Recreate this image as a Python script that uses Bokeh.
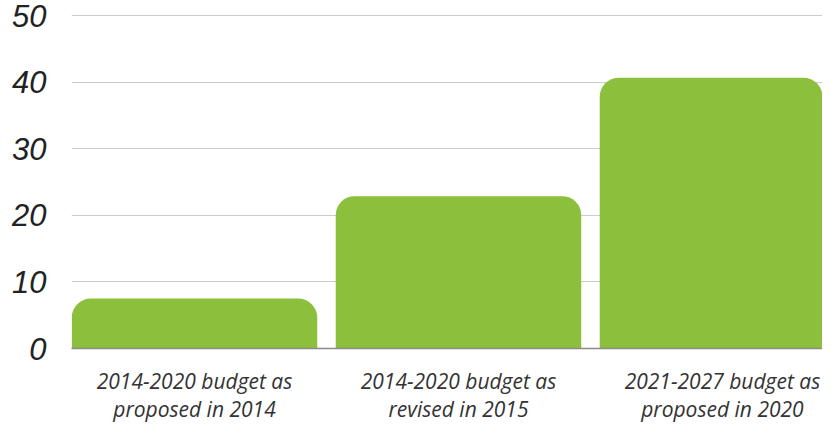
from bokeh.plotting import figure
from bokeh.models import Range1d, FixedTicker, ColumnDataSource
from bokeh.embed import file_html
from bokeh.resources import INLINE

categories = ["2014-2020 budget as\nproposed in 2014",
              "2014-2020 budget as\nrevised in 2015",
              "2021-2027 budget as\nproposed in 2020"]
values = [7.5, 22.9, 40.7]
y_ticks = [0, 10, 20, 30, 40, 50]

xs = list(range(len(categories)))
src = ColumnDataSource(dict(x=xs, top=values))

p = figure(width=822, height=425, output_backend="svg", toolbar_location=None,
           x_range=Range1d(-0.466, 2.379), y_range=Range1d(0, 52.3),
           min_border_left=71, min_border_right=0, min_border_top=0,
           min_border_bottom=60)
p.outline_line_color = None
p.background_fill_color = "white"

p.vbar(x="x", top="top", width=0.93, source=src, fill_color="#8cbf3b",
       line_color=None, border_radius=(19, 19, 0, 0))

p.xaxis.ticker = FixedTicker(ticks=xs)
p.xaxis.major_label_overrides = {i: c for i, c in zip(xs, categories)}
p.xaxis.major_tick_line_color = None
p.xaxis.minor_tick_line_color = None
p.xaxis.axis_line_color = "#8a8a8a"
p.xaxis.axis_line_width = 1.5
p.xaxis.major_label_text_font = "Open Sans"
p.xaxis.major_label_text_font_style = "italic"
p.xaxis.major_label_text_font_size = "21px"
p.xaxis.major_label_text_color = "#333333"
p.xaxis.major_label_standoff = 12
p.xaxis.major_label_text_line_height = 1.0

p.yaxis.ticker = FixedTicker(ticks=y_ticks)
p.yaxis.axis_line_color = None
p.yaxis.major_tick_line_color = None
p.yaxis.minor_tick_line_color = None
p.yaxis.major_label_text_font = "Liberation Sans"
p.yaxis.major_label_text_font_style = "italic"
p.yaxis.major_label_text_font_size = "31px"
p.yaxis.major_label_text_color = "#222222"
p.yaxis.major_label_standoff = 19

p.xgrid.grid_line_color = None
p.ygrid.grid_line_color = "#cccccc"
p.ygrid.grid_line_width = 1

open("out.html", "w").write(file_html(p, INLINE))
